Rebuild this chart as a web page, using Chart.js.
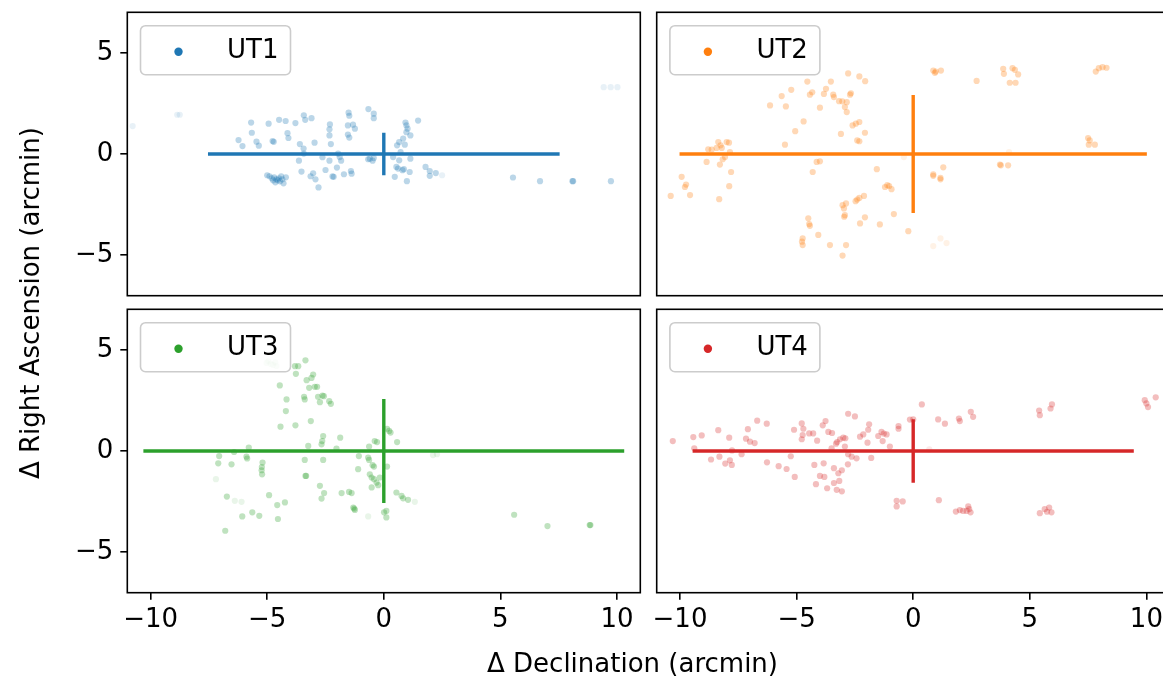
<!DOCTYPE html>
<html>
<head>
<meta charset="utf-8">
<script src="https://cdn.jsdelivr.net/npm/chart.js@4/dist/chart.umd.min.js"></script>
<style>
  html, body { margin: 0; padding: 0; width: 1163px; height: 677px; overflow: hidden; background: #fff; }
  canvas { position: absolute; left: 0; top: 0; }
  .axis-title { position: absolute; font-family: "DejaVu Sans", sans-serif; font-size: 26px; color: #000; white-space: nowrap; }
  #xtitle { left: 632.5px; top: 663px; transform: translate(-50%, -50%); }
  #ytitle { left: 30px; top: 302.5px; transform: translate(-50%, -50%) rotate(-90deg); }
</style>
</head>
<body>
<canvas id="ut1" width="1175" height="677"></canvas>
<canvas id="ut2" width="1175" height="677"></canvas>
<canvas id="ut3" width="1175" height="677"></canvas>
<canvas id="ut4" width="1175" height="677"></canvas>
<div class="axis-title" id="xtitle">Δ Declination (arcmin)</div>
<div class="axis-title" id="ytitle">Δ Right Ascension (arcmin)</div>
<script>
// Telescope labels and shared axis settings
const telescopes = ['UT1', 'UT2', 'UT3', 'UT4'];
const declRange = [-11, 11];
const raRange = [-7, 7];
const declTicks = [-10, -5, 0, 5, 10];
const raTicks = [-5, 0, 5];

// Offsets [Δdec, ΔRA] in arcmin for each unit telescope
const ut1Points = [
  [-5.69,1.55],[-4.94,1.50],[-4.49,1.69],[-4.21,1.63],[-3.79,1.53],[-3.43,1.91],[-3.37,1.69],[-3.10,1.77],
  [-2.31,1.46],[-2.33,1.22],[-2.33,0.92],[-1.51,2.04],[-1.48,1.89],[-1.54,1.41],[-1.32,1.45],[-1.24,1.25],
  [-1.54,0.96],[-1.48,0.81],[-0.66,2.22],[-0.43,1.99],[-0.43,1.77],[-5.66,1.05],[-6.23,0.69],[-6.06,0.39],
  [-5.46,0.61],[-5.36,0.41],[-4.77,0.64],[-4.72,0.60],[-4.13,1.03],[-4.09,0.79],[-3.60,0.49],[-3.44,0.27],
  [-3.43,0.02],[-2.97,0.56],[-2.27,0.49],[-1.96,0.02],[-1.89,-0.15],[-1.83,-0.33],[-3.64,-0.33],[-2.63,-0.16],
  [-2.33,-0.33],[-3.53,-0.87],[-3.14,-1.10],[-3.03,-0.95],[-2.93,-1.25],[-2.50,-0.79],[-2.20,-1.11],[-2.15,-1.13],
  [-2.01,-0.67],[-1.71,-1.00],[-1.41,-0.84],[-1.38,-0.97],[-2.80,-1.65],
  [-5.00,-1.05],[-4.90,-1.10],[-4.80,-1.20],[-4.70,-1.15],[-4.60,-1.25],[-4.55,-1.30],[-4.50,-1.20],[-4.45,-1.35],
  [-4.40,-1.10],[-4.35,-1.25],[-4.30,-1.45],[-4.20,-1.15],[-4.65,-1.40],[-4.75,-1.30],
  [-0.67,-0.26],[-0.48,-0.33],[-0.43,-0.20],[-0.60,-0.23],
  [1.47,1.65],[0.93,1.55],[0.97,1.41],[1.02,1.25],[0.97,1.08],[1.14,0.92],[0.66,0.59],[0.83,0.76],
  [0.90,0.46],[0.57,0.43],[0.72,0.10],[0.40,-0.15],[0.66,-0.31],[1.14,-0.23],[0.54,-0.64],[0.61,-0.72],
  [0.80,-0.80],[0.86,-0.75],[1.11,-0.89],[0.47,-1.13],[0.99,-1.34],[1.79,-0.64],[1.97,-0.84],[2.23,-0.94],
  [1.97,-1.08],[5.54,-1.16],[6.70,-1.34],[8.09,-1.34],[8.12,-1.34],[9.74,-1.34]
];
const ut1Faint = [[-10.77,1.38],[-8.86,1.94],[-8.75,1.94],[9.43,3.30],[9.73,3.30],[10.02,3.30],[2.50,-1.05]];

const ut2Points = [
  [-10.40,-2.07],[-9.93,-1.13],[-9.74,-1.51],[-9.79,-1.63],[-9.57,-2.03],[-8.86,-0.39],[-8.79,0.23],[-8.64,0.22],
  [-8.36,0.59],[-8.26,0.43],[-8.43,0.30],[-8.21,0.30],[-8.00,0.59],[-7.90,0.56],[-7.86,0.10],[-8.07,-0.15],
  [-8.17,-0.26],[-8.29,-0.52],[-7.81,-0.89],[-7.89,-1.59],[-8.32,-2.23],[-6.14,2.40],[-5.64,2.86],[-5.23,3.17],
  [-5.46,2.35],[-5.50,0.46],[-5.06,1.13],[-4.70,1.61],[-4.54,3.58],[-4.43,2.93],[-4.33,3.05],[-4.00,2.29],
  [-3.74,3.22],[-3.83,2.97],[-3.53,3.58],[-3.43,2.93],[-3.40,2.81],[-2.79,3.98],[-2.31,3.83],[-2.06,3.60],
  [-3.18,2.61],[-3.04,2.60],[-2.85,2.56],[-2.93,2.32],[-2.85,2.07],[-2.67,3.00],[-2.71,2.93],[-2.60,1.41],
  [-2.46,1.50],[-2.31,1.58],[-3.10,0.99],[-2.07,1.05],[-2.40,0.67],[-2.31,0.63],[-4.31,-0.89],[-4.14,-0.39],
  [-4.00,-0.36],[-4.50,-3.18],[-4.46,-3.46],[-4.43,-3.55],[-4.74,-4.17],[-4.77,-4.33],[-4.74,-4.50],[-4.07,-4.00],
  [-3.57,-4.50],[-3.03,-5.02],[-2.88,-4.50],[-3.03,-2.53],[-2.97,-2.69],[-2.93,-3.02],[-2.96,-3.10],[-2.88,-2.44],
  [-2.47,-2.33],[-2.40,-2.25],[-2.31,-2.17],[-2.11,-2.07],[-2.07,-3.13],[-2.28,-3.43],[-1.43,-3.48],[-0.83,-2.97],
  [-0.21,-3.81],[-1.56,-0.75],[-1.21,-1.63],[-1.11,-1.54],[-1.03,-1.58],[-0.93,-1.74],
  [0.86,4.12],[0.97,4.07],[1.19,4.12],[0.93,4.01],[2.72,3.61],[3.86,4.21],[3.89,3.96],[4.26,4.24],
  [4.36,4.16],[4.50,3.93],[4.14,3.52],[4.39,3.52],[7.83,4.07],[7.96,4.24],[8.12,4.29],[8.29,4.26],
  [7.50,0.79],[7.57,0.67],[7.53,0.46],[7.79,0.46],[3.72,-0.52],[3.76,-0.56],[4.07,-0.56],[0.86,-1.01],
  [0.86,-1.08],[1.17,-1.18],[1.17,-1.25],[1.29,-0.66]
];
const ut2Faint = [[-0.40,-0.15],[4.11,0.10],[0.86,-4.55],[1.17,-4.17],[1.43,-4.40]];

const ut3Points = [
  [-3.81,4.19],[-3.67,4.19],[-3.36,4.48],[-3.77,3.81],[-3.03,3.78],[-3.10,3.61],[-3.31,3.50],[-3.20,3.12],
  [-2.96,3.17],[-2.86,3.17],[-4.46,3.24],[-4.17,2.55],[-4.20,1.97],[-3.42,2.68],[-3.39,2.55],[-2.82,2.68],
  [-2.63,2.74],[-2.57,2.71],[-2.74,2.41],[-2.34,2.46],[-2.27,2.33],[-4.43,1.20],[-3.79,1.27],[-3.13,1.48],
  [-2.60,0.74],[-2.64,0.49],[-2.67,0.33],[-3.24,0.25],[-1.87,0.66],[-2.03,0.12],[-3.39,-0.44],[-2.60,-0.44],
  [-5.79,0.17],[-5.86,-0.37],[-5.89,-0.28],[-6.42,-0.05],[-6.53,-0.66],[-7.06,-0.25],[-7.10,-0.61],[-5.20,-0.57],
  [-5.23,-0.79],[-5.24,-0.95],[-5.22,-1.15],[-3.36,-1.23],[-3.33,-1.23],[-2.74,-1.72],[-2.56,-2.08],[-2.67,-2.35],
  [-6.73,-2.25],[-4.92,-2.18],[-4.57,-2.67],[-4.24,-2.54],[-6.07,-3.23],[-5.64,-3.03],[-5.34,-3.20],[-4.54,-3.36],
  [-6.80,-3.94],[-1.81,-2.08],[-1.49,-2.02],[-1.38,-2.08],[-1.31,-2.79],[-1.24,-2.91],[-1.27,-2.85],[-1.07,-0.25],
  [-1.10,-0.90],[-0.63,0.22],[-0.39,0.49],[-0.29,0.44],[-0.67,-0.33],[-0.63,-0.44],[-0.48,-0.70],[-0.42,-0.77],
  [-0.60,-1.15],[-0.52,-1.31],[-0.42,-1.39],[-0.31,-1.56],[-0.24,-1.69],[-0.17,-1.31],[-0.52,-1.80],[0.14,1.10],
  [0.23,0.99],[0.29,0.91],[0.57,0.44],[0.14,-0.77],[0.54,-2.05],[0.76,-2.22],[0.83,-2.34],[1.04,-2.41],
  [0.01,-3.03],[0.11,-2.96],[0.11,-3.28],[5.59,-3.15],[7.02,-3.71],[8.83,-3.66],[8.86,-3.66]
];
const ut3Faint = [
  [-5.03,4.35],[-4.95,4.43],[-4.85,4.30],[-4.75,4.25],[-4.65,4.38],[-4.60,4.20],[-7.20,-1.39],[-6.39,-2.46],
  [-6.10,-2.51],[1.33,-2.51],[2.11,-0.20],[2.28,-0.16],[-0.67,-3.23]
];

const ut4Points = [
  [-10.31,0.49],[-9.43,0.69],[-9.07,0.77],[-9.39,0.13],[-8.36,1.03],[-8.67,-0.42],[-8.31,-0.28],[-7.89,0.66],
  [-8.06,-0.62],[-7.86,-0.46],[-7.78,-0.69],[-7.77,0.03],[-7.36,-0.16],[-7.09,1.08],[-7.17,0.61],[-7.00,0.46],
  [-6.80,0.39],[-6.69,1.50],[-6.28,1.35],[-6.27,-0.56],[-5.77,-0.75],[-5.43,-0.89],[-5.08,-1.28],[-5.25,-0.26],
  [-4.78,1.36],[-5.11,1.05],[-4.71,1.10],[-4.74,0.79],[-4.78,0.58],[-4.46,0.87],[-4.29,0.87],[-4.12,0.51],
  [-3.76,1.48],[-3.88,1.27],[-3.64,0.94],[-3.48,0.89],[-4.24,-0.69],[-3.84,-0.61],[-4.00,-1.23],[-3.81,-1.28],
  [-3.40,-0.85],[-3.21,-1.10],[-3.06,-0.95],[-4.17,-1.64],[-3.69,-1.84],[-3.40,-1.58],[-3.17,-1.48],[-3.28,-1.92],
  [-3.06,-1.99],[-3.31,0.36],[-3.26,0.44],[-3.14,0.58],[-3.00,0.66],[-2.91,0.63],[-2.93,0.22],[-3.50,0.13],
  [-2.79,1.84],[-2.50,1.71],[-2.79,-0.16],[-2.64,-0.28],[-2.43,-0.36],[-2.80,-0.66],[-2.28,0.71],[-2.14,0.82],
  [-1.93,1.05],[-1.89,1.32],[-1.96,0.41],[-1.80,-0.34],[-1.50,0.74],[-1.36,0.94],[-1.26,0.86],[-1.14,0.82],
  [-1.31,0.49],[-1.00,0.22],[-0.63,1.23],[-0.63,1.10],[-0.14,1.55],[0.00,1.56],[-0.71,-2.46],[-0.45,-2.49],
  [-0.71,-2.74],
  [0.37,2.30],[1.07,1.56],[1.36,1.35],[1.96,1.60],[2.00,1.48],[2.47,1.94],[2.57,1.69],[5.40,2.00],
  [5.43,1.77],[5.89,2.10],[5.95,2.30],[9.93,2.51],[10.00,2.35],[10.07,2.17],[10.40,2.65],[1.10,-2.43],
  [1.83,-2.99],[2.00,-2.92],[2.14,-2.96],[2.29,-2.96],[2.36,-2.74],[2.46,-3.03],[2.40,-2.87],[5.43,-3.07],
  [5.64,-2.87],[5.83,-2.79],[5.74,-3.00],[5.93,-3.03]
];
const ut4Faint = [[0.69,0.08]];

// Half-widths of the spread cross [Δdec, ΔRA] centred on the origin
const ut1Spread = [7.54, 1.05];
const ut2Spread = [10.02, 2.92];
const ut3Spread = [10.31, 2.57];
const ut4Spread = [9.46, 1.57];

const colors = ['#1f77b4', '#ff7f0e', '#2ca02c', '#d62728'];
const FONT = '"DejaVu Sans", sans-serif';
const FONT_SIZE = 26;
const CANVAS_W = 1175, CANVAS_H = 677;
const XAXIS_H = 50;

// Plot-area rectangles of the 2x2 grid (left column / right column, top row / bottom row)
const cols = [{ left: 127.3, right: 640.3 }, { left: 656.7, right: 1169.7 }];
const rows = [{ top: 12.3, bottom: 295.7 }, { top: 309.3, bottom: 592.7 }];

function rgba(hex, a) {
  const n = parseInt(hex.slice(1), 16);
  return `rgba(${(n >> 16) & 255},${(n >> 8) & 255},${n & 255},${a})`;
}
const toXY = pts => pts.map(([x, y]) => ({ x, y }));
const fmt = v => (v < 0 ? '\u2212' + Math.abs(v) : String(v));

// Frame around each panel
const framePlugin = {
  id: 'frame',
  afterDraw(chart) {
    const a = chart.chartArea, ctx = chart.ctx;
    ctx.save();
    ctx.strokeStyle = '#000';
    ctx.lineWidth = 1.6;
    ctx.strokeRect(a.left, a.top, a.right - a.left, a.bottom - a.top);
    ctx.restore();
  }
};

// Boxed legend in the upper-left corner of each panel
const panelLegend = {
  id: 'panelLegend',
  afterDraw(chart) {
    const a = chart.chartArea, ctx = chart.ctx;
    const ds = chart.data.datasets[0];
    const bx = a.left + 13.2, by = a.top + 13.4, bw = 150, bh = 49, r = 5;
    ctx.save();
    ctx.beginPath();
    ctx.roundRect(bx, by, bw, bh, r);
    ctx.fillStyle = 'rgba(255,255,255,0.8)';
    ctx.fill();
    ctx.strokeStyle = '#cccccc';
    ctx.lineWidth = 1.6;
    ctx.stroke();
    ctx.beginPath();
    ctx.arc(bx + 38, by + 26, 4.2, 0, Math.PI * 2);
    ctx.fillStyle = ds.markerColor;
    ctx.fill();
    ctx.fillStyle = '#000';
    ctx.font = `${FONT_SIZE}px ${FONT}`;
    ctx.textBaseline = 'alphabetic';
    ctx.textAlign = 'left';
    ctx.fillText(ds.label, bx + 86.5, by + 32.2);
    ctx.restore();
  }
};

// Scale paddings are zeroed so the layout padding alone places the plot area
function noScalePadding(s) {
  s.paddingTop = 0; s.paddingBottom = 0; s.paddingLeft = 0; s.paddingRight = 0;
}

function makePanel(id, idx, pts, faint, spread, col, row) {
  const color = colors[idx];
  const area = { ...cols[col], ...rows[row] };
  const showX = row === 1, showY = col === 0;
  const tickGrid = { drawOnChartArea: false, drawTicks: true, tickLength: 7, color: '#000', lineWidth: 1.6, tickColor: '#000', tickWidth: 1.6 };
  new Chart(document.getElementById(id), {
    type: 'scatter',
    data: {
      datasets: [
        { label: telescopes[idx], markerColor: color, data: toXY(pts), backgroundColor: rgba(color, 0.3), borderWidth: 0, pointRadius: 3.1, order: 3 },
        { label: telescopes[idx] + ' faint', data: toXY(faint), backgroundColor: rgba(color, 0.1), borderWidth: 0, pointRadius: 3.1, order: 2 },
        { label: 'spread dec', data: [{ x: -spread[0], y: 0 }, { x: spread[0], y: 0 }], showLine: true, borderColor: color, borderWidth: 3.4, pointRadius: 0, order: 1 },
        { label: 'spread ra', data: [{ x: 0, y: -spread[1] }, { x: 0, y: spread[1] }], showLine: true, borderColor: color, borderWidth: 3.4, pointRadius: 0, order: 0 }
      ]
    },
    options: {
      responsive: false,
      animation: false,
      events: [],
      layout: {
        padding: {
          left: showY ? 0 : area.left,
          right: CANVAS_W - area.right,
          top: area.top,
          bottom: CANVAS_H - area.bottom - (showX ? XAXIS_H : 0)
        }
      },
      plugins: { legend: { display: false }, tooltip: { enabled: false } },
      scales: {
        x: {
          type: 'linear', min: declRange[0], max: declRange[1], display: showX,
          afterBuildTicks: s => { s.ticks = declTicks.map(v => ({ value: v })); },
          afterFit: s => { if (showX) s.height = XAXIS_H; noScalePadding(s); },
          grid: tickGrid, border: { display: false },
          ticks: { font: { family: FONT, size: FONT_SIZE }, color: '#000', padding: 5, maxRotation: 0, callback: fmt }
        },
        y: {
          type: 'linear', min: raRange[0], max: raRange[1], display: showY,
          afterBuildTicks: s => { s.ticks = raTicks.map(v => ({ value: v })); },
          afterFit: s => { if (showY) s.width = area.left; noScalePadding(s); },
          grid: tickGrid, border: { display: false },
          ticks: { font: { family: FONT, size: FONT_SIZE }, color: '#000', padding: 7, callback: fmt }
        }
      }
    },
    plugins: [framePlugin, panelLegend]
  });
}

makePanel('ut1', 0, ut1Points, ut1Faint, ut1Spread, 0, 0);
makePanel('ut2', 1, ut2Points, ut2Faint, ut2Spread, 1, 0);
makePanel('ut3', 2, ut3Points, ut3Faint, ut3Spread, 0, 1);
makePanel('ut4', 3, ut4Points, ut4Faint, ut4Spread, 1, 1);
</script>
</body>
</html>
